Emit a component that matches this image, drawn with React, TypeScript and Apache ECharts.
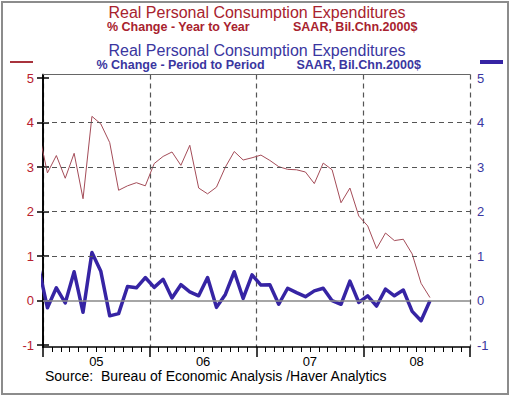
import React, { useEffect, useRef } from "react";
import * as echarts from "echarts";

// Monthly observations, Dec 2004 .. Aug 2008
const periods = [
  "2004-12",
  "2005-01", "2005-02", "2005-03", "2005-04", "2005-05", "2005-06", "2005-07", "2005-08", "2005-09", "2005-10", "2005-11", "2005-12",
  "2006-01", "2006-02", "2006-03", "2006-04", "2006-05", "2006-06", "2006-07", "2006-08", "2006-09", "2006-10", "2006-11", "2006-12",
  "2007-01", "2007-02", "2007-03", "2007-04", "2007-05", "2007-06", "2007-07", "2007-08", "2007-09", "2007-10", "2007-11", "2007-12",
  "2008-01", "2008-02", "2008-03", "2008-04", "2008-05", "2008-06", "2008-07", "2008-08",
];

// % Change - Year to Year
const yoyChange = [
  3.8,
  2.87, 3.26, 2.75, 3.31, 2.29, 4.14, 3.97, 3.55, 2.48, 2.58, 2.65, 2.58,
  3.08, 3.24, 3.34, 3.04, 3.49, 2.53, 2.4, 2.55, 3.0, 3.35, 3.16, 3.21,
  3.27, 3.15, 3.01, 2.95, 2.94, 2.89, 2.63, 3.09, 2.94, 2.2, 2.53, 1.9,
  1.68, 1.17, 1.52, 1.35, 1.38, 1.05, 0.39, 0.07,
];

// % Change - Period to Period
const periodChange = [
  0.76,
  -0.16, 0.29, -0.05, 0.65, -0.26, 1.08, 0.66, -0.34, -0.29, 0.32, 0.29, 0.52,
  0.3, 0.48, 0.06, 0.36, 0.2, 0.11, 0.52, -0.15, 0.14, 0.65, 0.05, 0.58,
  0.35, 0.36, -0.08, 0.28, 0.18, 0.09, 0.22, 0.28, 0.0, -0.08, 0.44, -0.04,
  0.11, -0.12, 0.26, 0.11, 0.24, -0.24, -0.45, 0.0,
];

const yTicks = [-1, 0, 1, 2, 3, 4, 5];
const gridLevels = [1, 2, 3, 4];
const yearLabels = ["05", "06", "07", "08"];
const yearLabelMonths = [6, 18, 30, 42]; // months since Jan 2005 (mid-year)

const FONT = '"Liberation Sans", Arial, Helvetica, sans-serif';
const RED = "#a8222e";
const BLUE = "#3a36a0";

export default function App() {
  const ref = useRef<HTMLDivElement>(null);

  useEffect(() => {
    if (!ref.current) return;
    const chart = echarts.init(ref.current, null, { renderer: "svg" });

    // month position: Jan 2005 mid-month = 0.5
    const toX = (i: number) => i - 0.5;
    const yoyData = yoyChange.map((v, i) => [toX(i), v]);
    const popData = periodChange.map((v, i) => [toX(i), v]);

    const yAxisCommon = {
      type: "value",
      min: -1.04,
      max: 5.08,
      axisLine: { show: true, lineStyle: { color: "#000", width: 1.6 } },
      axisTick: { show: true, customValues: yTicks, length: 6, lineStyle: { color: "#000", width: 1.5 } },
      splitLine: { show: false },
    };

    const option: any = {
      animation: false,
      backgroundColor: "#fff",
      grid: { left: 43, right: 40, top: 74.5, bottom: 50 },
      xAxis: [
        {
          type: "value",
          min: 0,
          max: 48,
          interval: 12,
          position: "bottom",
          axisLine: { show: true, onZero: false, lineStyle: { color: "#000", width: 1.6 } },
          axisTick: { show: true, length: 10, lineStyle: { color: "#000", width: 1.5 } },
          minorTick: { show: true, splitNumber: 12, length: 5, lineStyle: { color: "#000", width: 1 } },
          axisLabel: {
            customValues: yearLabelMonths,
            formatter: (v: number) => yearLabels[yearLabelMonths.indexOf(v)] ?? "",
            color: "#000",
            fontSize: 13,
            fontFamily: FONT,
            margin: 8,
          },
          splitLine: { show: true, lineStyle: { color: "#555", type: [5, 4], width: 1.2 } },
        },
        {
          type: "value",
          min: 0,
          max: 48,
          position: "top",
          axisLine: { show: true, onZero: false, lineStyle: { color: "#666", width: 1.2 } },
          axisTick: { show: false },
          axisLabel: { show: false },
          splitLine: { show: false },
        },
      ],
      yAxis: [
        {
          ...yAxisCommon,
          position: "left",
          axisLabel: { customValues: yTicks, color: "#b8202e", fontSize: 13, fontFamily: FONT, margin: 9 },
        },
        {
          ...yAxisCommon,
          position: "right",
          axisLabel: { customValues: yTicks, color: BLUE, fontSize: 13, fontFamily: FONT, margin: 7 },
        },
      ],
      series: [
        {
          name: "Year to Year",
          type: "line",
          xAxisIndex: 0,
          yAxisIndex: 0,
          data: yoyData,
          symbol: "none",
          clip: true,
          z: 2,
          lineStyle: { color: "#a44c58", width: 1 },
          markLine: {
            silent: true,
            symbol: "none",
            label: { show: false },
            data: [
              ...gridLevels.map((g) => ({ yAxis: g, lineStyle: { color: "#555", type: [5, 4], width: 1.2 } })),
              { yAxis: 0, lineStyle: { color: "#888", type: "solid", width: 1.6 } },
            ],
          },
        },
        {
          name: "Period to Period",
          type: "line",
          xAxisIndex: 0,
          yAxisIndex: 1,
          data: popData,
          symbol: "none",
          clip: true,
          z: 3,
          lineStyle: { color: "#3624a4", width: 3.5, join: "round" },
        },
      ],
      graphic: [
        {
          type: "rect",
          shape: { x: 2, y: 2, width: 506, height: 392 },
          style: { fill: "none", stroke: "#8c8c8c", lineWidth: 2 },
          silent: true,
        },
        {
          type: "text",
          x: 257,
          y: 12,
          style: { text: "Real Personal Consumption Expenditures", fill: RED, font: `16px ${FONT}`, textAlign: "center", textVerticalAlign: "middle" },
        },
        {
          type: "text",
          x: 107,
          y: 27,
          style: { text: "% Change - Year to Year", fill: RED, font: `bold 12.5px ${FONT}`, textAlign: "left", textVerticalAlign: "middle" },
        },
        {
          type: "text",
          x: 293,
          y: 27,
          style: { text: "SAAR, Bil.Chn.2000$", fill: RED, font: `bold 12.5px ${FONT}`, textAlign: "left", textVerticalAlign: "middle" },
        },
        {
          type: "text",
          x: 257,
          y: 50,
          style: { text: "Real Personal Consumption Expenditures", fill: BLUE, font: `16px ${FONT}`, textAlign: "center", textVerticalAlign: "middle" },
        },
        {
          type: "text",
          x: 96.5,
          y: 65,
          style: { text: "% Change - Period to Period", fill: BLUE, font: `bold 12.5px ${FONT}`, textAlign: "left", textVerticalAlign: "middle" },
        },
        {
          type: "text",
          x: 296.5,
          y: 65,
          style: { text: "SAAR, Bil.Chn.2000$", fill: BLUE, font: `bold 12.5px ${FONT}`, textAlign: "left", textVerticalAlign: "middle" },
        },
        {
          type: "line",
          shape: { x1: 10, y1: 62, x2: 33, y2: 62 },
          style: { stroke: "#a8323c", lineWidth: 2 },
        },
        {
          type: "line",
          shape: { x1: 480, y1: 62, x2: 503, y2: 62 },
          style: { stroke: "#3624a4", lineWidth: 4 },
        },
        {
          type: "text",
          x: 45,
          y: 375.5,
          style: { text: "Source:  Bureau of Economic Analysis /Haver Analytics", fill: "#000", font: `14px ${FONT}`, textAlign: "left", textVerticalAlign: "middle" },
        },
      ],
    };

    chart.setOption(option);
    return () => chart.dispose();
  }, []);

  return (
    <div
      ref={ref}
      style={{ position: "fixed", left: 0, top: 0, width: 510, height: 397, background: "#fff" }}
    />
  );
}
